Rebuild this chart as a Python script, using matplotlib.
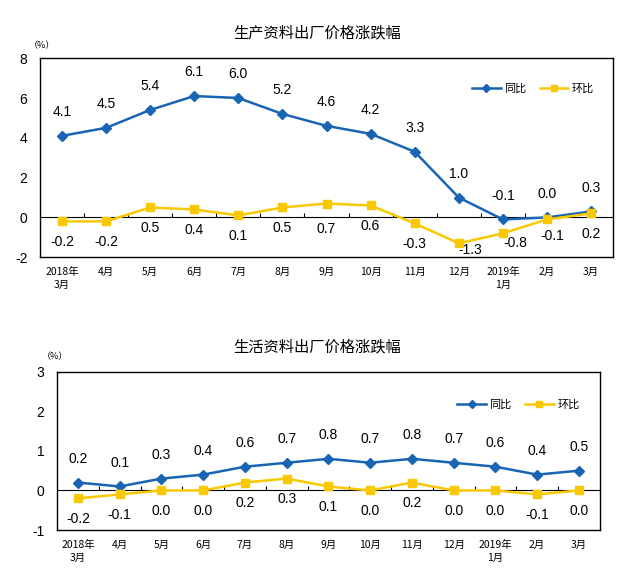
import numpy as np
import matplotlib.pyplot as plt

plt.rcParams['font.family'] = ['Liberation Sans', 'Noto Sans CJK SC', 'DejaVu Sans']

# 数据
months = ["2018年\n3月", "4月", "5月", "6月", "7月", "8月", "9月", "10月",
          "11月", "12月", "2019年\n1月", "2月", "3月"]
prod_yoy = [4.1, 4.5, 5.4, 6.1, 6.0, 5.2, 4.6, 4.2, 3.3, 1.0, -0.1, 0.0, 0.3]
prod_mom = [-0.2, -0.2, 0.5, 0.4, 0.1, 0.5, 0.7, 0.6, -0.3, -1.3, -0.8, -0.1, 0.2]
life_yoy = [0.2, 0.1, 0.3, 0.4, 0.6, 0.7, 0.8, 0.7, 0.8, 0.7, 0.6, 0.4, 0.5]
life_mom = [-0.2, -0.1, 0.0, 0.0, 0.2, 0.3, 0.1, 0.0, 0.2, 0.0, 0.0, -0.1, 0.0]

blue = "#1a64b4"
yellow = "#f8c800"
cjk = ['Noto Sans CJK SC', 'DejaVu Sans']

fig = plt.figure(figsize=(6.34, 5.82), dpi=100)


def draw(rect, yoy, mom, ylim, yticks, tick_h, title, title_y, pct_x, pct_y, leg_pos,
         mom_shift=None):
    mom_shift = mom_shift or {}
    ax = fig.add_axes(rect)
    x = np.arange(len(months))
    ax.plot(x, yoy, color=blue, lw=1.8, marker="D", ms=5, label="同比", zorder=3)
    ax.plot(x, mom, color=yellow, lw=1.8, marker="s", ms=6, label="环比", zorder=3)
    ax.axhline(0, color="black", lw=0.8, zorder=2)
    ax.vlines(np.arange(0.5, len(months) - 1), 0, tick_h, color="black", lw=0.8)

    for i, v in enumerate(yoy):
        ax.annotate(f"{v:.1f}", (i, v), xytext=(0, 12), textcoords="offset points",
                    ha="center", va="bottom", fontsize=10)
    for i, v in enumerate(mom):
        off = mom_shift.get(i, (0, -15))
        ax.annotate(f"{v:.1f}", (i, v), xytext=off, textcoords="offset points",
                    ha="center", va="center", fontsize=10)

    ax.set_xlim(-0.5, len(months) - 0.5)
    ax.set_ylim(*ylim)
    ax.set_yticks(yticks)
    ax.set_yticklabels([str(t) for t in yticks], fontsize=10)
    ax.tick_params(axis="y", length=0, pad=9)
    ax.set_xticks(x)
    ax.set_xticklabels(months, fontsize=7.5, family=cjk, linespacing=1.4)
    ax.tick_params(axis="x", length=0, pad=7)
    for s in ax.spines.values():
        s.set_linewidth(1.0)

    fig.text(0.5, title_y, title, ha="center", va="center", fontsize=11, family=cjk)
    fig.text(pct_x, pct_y, "（%）", ha="center", va="center", fontsize=6.5, family=cjk)
    ax.legend(loc="center", bbox_to_anchor=leg_pos, ncol=2, frameon=False,
              prop={"family": cjk, "size": 8}, handlelength=2.6, columnspacing=1.2,
              handletextpad=0.3, markerscale=0.8)
    return ax


draw([0.063, 0.558, 0.904, 0.342], prod_yoy, prod_mom, (-2, 8), [-2, 0, 2, 4, 6, 8], 0.2,
     "生产资料出厂价格涨跌幅", 1 - 33 / 582, 42 / 634, 1 - 46 / 582, (0.86, 0.845),
     mom_shift={6: (0, -18), 9: (8, -5), 10: (9, -7), 11: (4, -12)})
draw([0.090, 0.0893, 0.856, 0.272], life_yoy, life_mom, (-1, 3), [-1, 0, 1, 2, 3], 0.1,
     "生活资料出厂价格涨跌幅", 1 - 347 / 582, 55 / 634, 1 - 357 / 582, (0.85, 0.79))

fig.savefig("out.png", dpi=100)
